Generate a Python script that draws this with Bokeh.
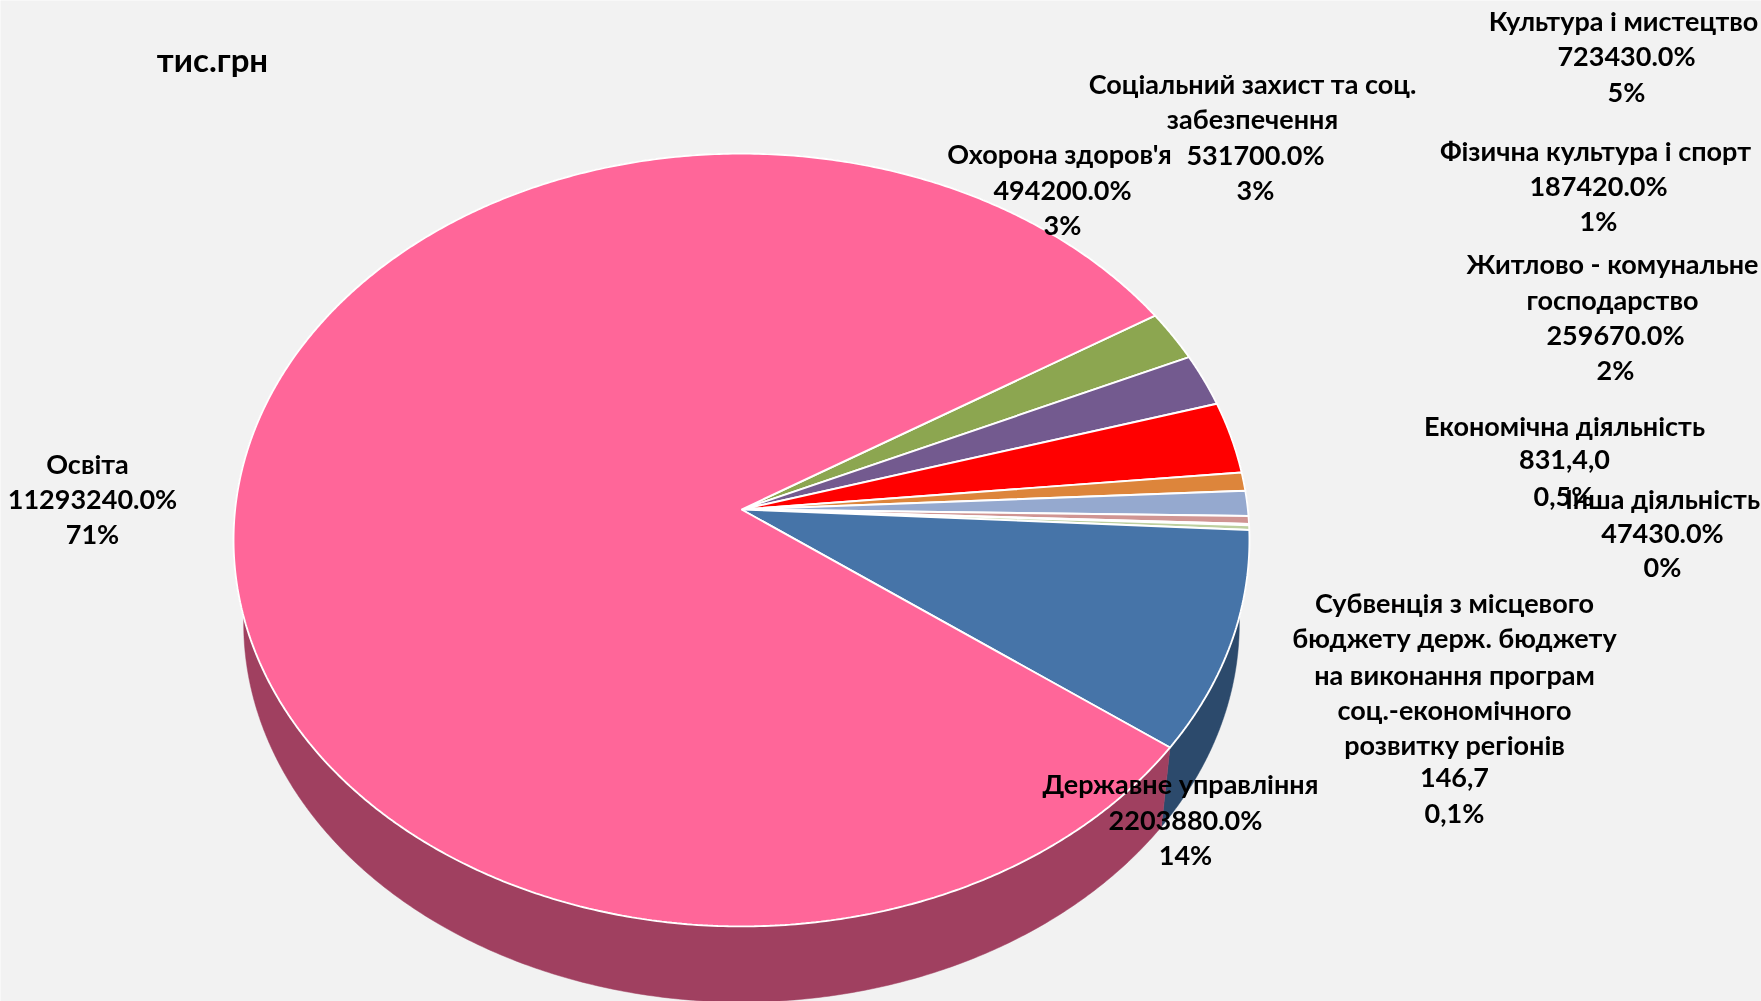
import math
from bokeh.plotting import figure
from bokeh.models import Range1d
from bokeh.core.properties import value
from bokeh.embed import file_html
from bokeh.resources import INLINE

W, H = 1761, 1001

# Data, clockwise from the boundary Освіта / Охорона здоров'я
categories = ["Охорона здоров'я", "Соціальний захист та соц. забезпечення", "Культура і мистецтво",
              "Фізична культура і спорт", "Житлово - комунальне господарство", "Економічна діяльність",
              "Субвенція", "Інша діяльність", "Державне управління", "Освіта"]
values = [494200, 531700, 723430, 187420, 259670, 83140, 14670, 47430, 2203880, 11293240]
top_colors = ["#8CA650", "#735A8F", "#FF0000", "#DD853B", "#95A9CF", "#D09593", "#4BACC6", "#BDD09F", "#4674A8", "#FF6699"]
wall_colors = ["#5A6B33", "#4A3A5C", "#A00000", "#8E5526", "#606D85", "#86605F", "#306F80", "#7A8666", "#2C4A6C", "#A04060"]

title_text = "тис.грн"
labels = [
    ("Культура і мистецтво", 1623, 22), ("723430.0%", 1626, 57), ("5%", 1626, 93),
    ("Соціальний захист та соц.", 1252, 85), ("забезпечення", 1252, 120), ("531700.0%", 1255, 156), ("3%", 1255, 191),
    ("Охорона здоров'я", 1059, 155), ("494200.0%", 1062, 191), ("3%", 1062, 226),
    ("Фізична культура і спорт", 1595, 152), ("187420.0%", 1598, 187), ("1%", 1598, 222),
    ("Житлово - комунальне", 1612, 265), ("господарство", 1612, 301), ("259670.0%", 1615, 336), ("2%", 1615, 371),
    ("Економічна діяльність", 1564, 427), ("831,4,0", 1564, 461), ("0,5%", 1563, 497),
    ("Інша діяльність", 1662, 500), ("47430.0%", 1662, 534), ("0%", 1662, 568),
    ("Субвенція з місцевого", 1454, 604), ("бюджету держ. бюджету", 1454, 639), ("на виконання програм", 1454, 676),
    ("соц.-економічного", 1454, 711), ("розвитку регіонів", 1454, 746), ("146,7", 1454, 779), ("0,1%", 1454, 814),
    ("Державне управління", 1180, 785), ("2203880.0%", 1185, 821), ("14%", 1185, 856),
    ("Освіта", 87, 465), ("11293240.0%", 92, 500), ("71%", 92, 535),
]

# Pie projection
AX, AY = 741.0, 509.0      # apex of the top face
A, B, K = 506.4, 384.0, 0.0789
SQUEEZE = 1.88             # foreshortening of the angles
START = 49.3               # degrees above the right-hand horizontal
WARP_AMP, WARP_SPAN = 2.9, 88.0   # small angular distortion of the renderer's right-hand side
DEPTH = 84.0
LOW = 0.98


def warp(theta):
    c = math.degrees(theta) + START
    if 0 <= c <= WARP_SPAN:
        return theta - math.radians(WARP_AMP * math.sin(2 * math.pi * c / WARP_SPAN))
    return theta


def rim(theta, level=0.0):
    t = warp(theta)
    u, v = SQUEEZE * math.cos(t), math.sin(t)
    n = math.hypot(u, v)
    u, v = u / n, v / n
    w = 1 - K * v
    s = LOW if level else 1.0
    return AX + s * A * u / w, AY + level + s * B * v / w


total = sum(values)
edges = [math.radians(-START)]
for val in values:
    edges.append(edges[-1] + 2 * math.pi * val / total)

p = figure(width=W, height=H, x_range=Range1d(0, W), y_range=Range1d(H, 0),
           output_backend="svg", toolbar_location=None, min_border=0,
           background_fill_color="#F2F2F2", border_fill_color="#F2F2F2", outline_line_color=None)
p.axis.visible = False
p.grid.visible = False
p.styles = {"position": "fixed", "left": "0px", "top": "0px"}

wx, wy, wc = [], [], []
tx, ty, tc = [], [], []
for i, val in enumerate(values):
    n = max(3, int(abs(edges[i + 1] - edges[i]) / 0.005))
    ths = [edges[i] + (edges[i + 1] - edges[i]) * j / n for j in range(n + 1)]
    up = [rim(t) for t in ths]
    lo = [rim(t, DEPTH) for t in ths]
    wx.append([q[0] for q in up] + [q[0] for q in reversed(lo)])
    wy.append([q[1] for q in up] + [q[1] for q in reversed(lo)])
    wc.append(wall_colors[i])
    tx.append([AX] + [q[0] for q in up])
    ty.append([AY] + [q[1] for q in up])
    tc.append(top_colors[i])

p.patches(wx, wy, fill_color=wc, line_color=wc, line_width=0.5)
p.patches(tx, ty, fill_color=tc, line_color="#FFFFFF", line_width=1.9)

font = value("Lato")
p.text([q[1] for q in labels], [q[2] for q in labels], text=[q[0] for q in labels],
       text_font=font, text_font_style="bold", text_font_size="27px", y_offset=-2,
       text_align="center", text_baseline="middle", text_color="#000000")
p.text([212], [60], text=[title_text], text_font=font, text_font_style="bold", text_font_size="33px", y_offset=-2,
       text_align="center", text_baseline="middle", text_color="#000000")

open("out.html", "w").write(file_html(p, INLINE))
